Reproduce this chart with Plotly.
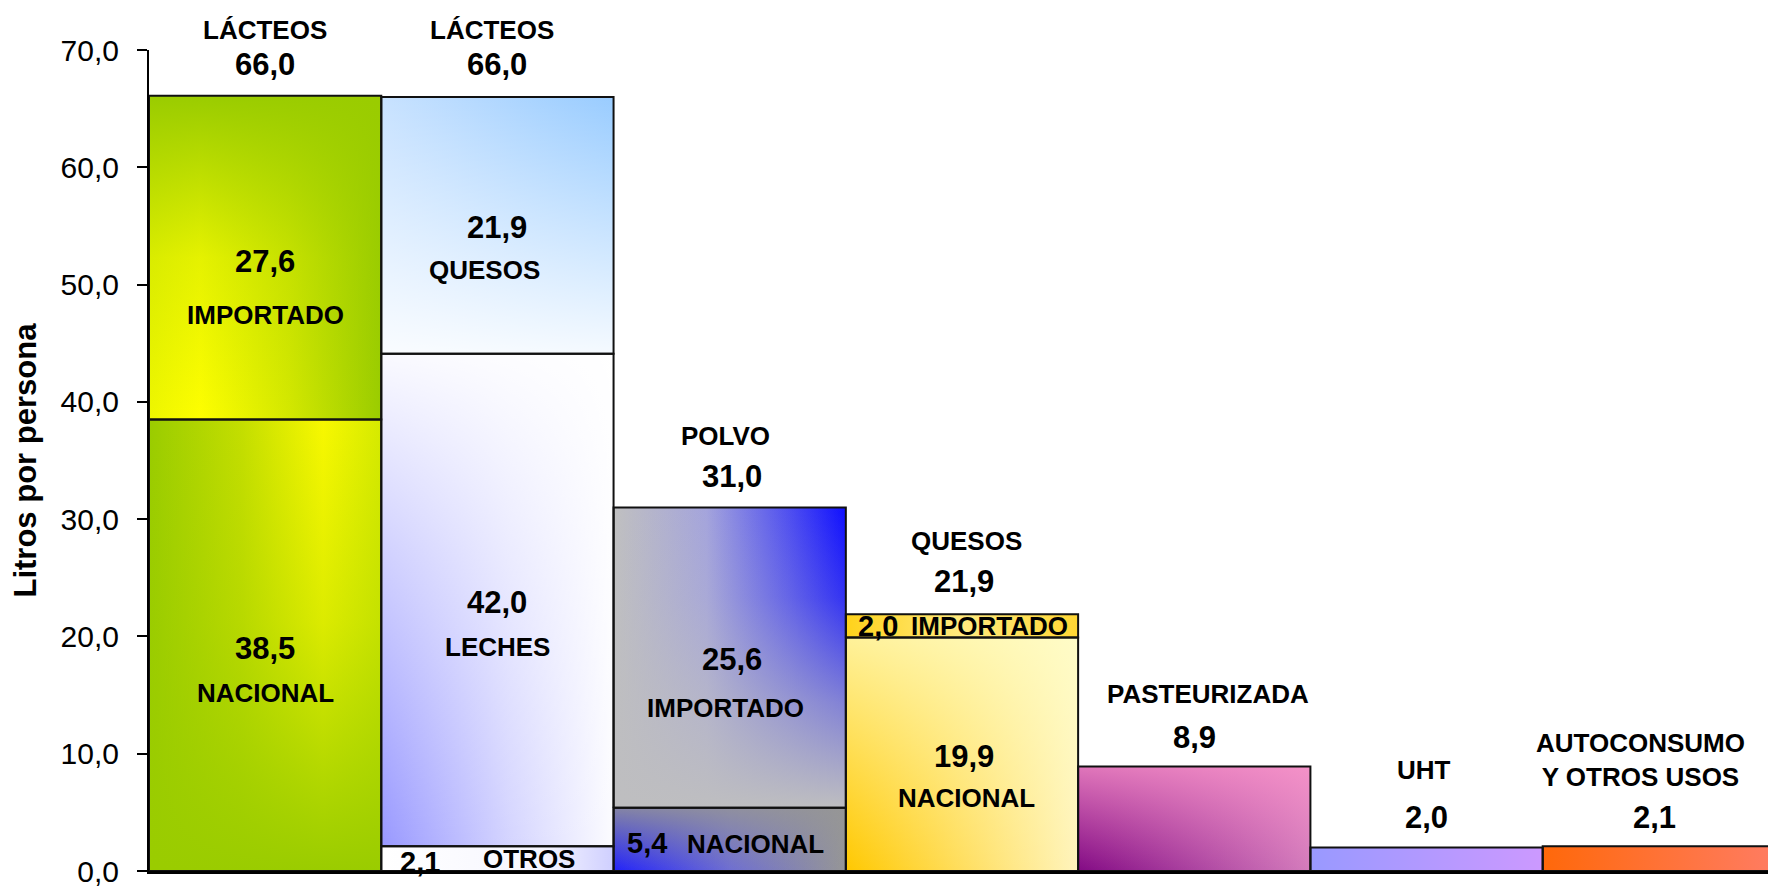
import plotly.graph_objects as go

# ---------------- data ----------------
categories = ["LÁCTEOS", "LÁCTEOS", "POLVO", "QUESOS", "PASTEURIZADA", "UHT",
              "AUTOCONSUMO<br>Y OTROS USOS"]
bar_totals = [66.0, 66.0, 31.0, 21.9, 8.9, 2.0, 2.1]

seg_bar = [0, 0, 1, 1, 1, 2, 2, 3, 3, 4, 5, 6]
seg_names = ["NACIONAL", "IMPORTADO", "OTROS", "LECHES", "QUESOS",
             "NACIONAL", "IMPORTADO", "NACIONAL", "IMPORTADO", "", "", ""]
seg_values = [38.5, 27.6, 2.1, 42.0, 21.9, 5.4, 25.6, 19.9, 2.0, 8.9, 2.0, 2.1]

y_tick_values = [0, 10, 20, 30, 40, 50, 60, 70]
y_title = "Litros por persona"

# ---------------- styles ----------------
FONT = "Liberation Sans, Arial, sans-serif"
X_RANGE = [-0.5, 6.47]
Y_RANGE = [0, 70]

def rgba(hexc, a):
    h = hexc.lstrip("#")
    return "rgba(%d,%d,%d,%.3f)" % (int(h[0:2], 16), int(h[2:4], 16), int(h[4:6], 16), a)

# horizontal base gradients (left -> right)
base_grad = [
    [[0, "#9ACC00"], [0.4, "#C4DE00"], [0.75, "#F8F800"], [1, "#D6EA00"]],
    [[0, "#EEF600"], [0.22, "#FEFE00"], [0.6, "#D4E800"], [1, "#9ACC00"]],
    [[0, "#FFFFFF"], [0.7, "#F6F6FF"], [1, "#CFCFFF"]],
    [[0, "#9898FF"], [0.55, "#D4D4FF"], [1, "#FCFCFF"]],
    [[0, "#C8E2FF"], [1, "#99CCFF"]],
    [[0, "#2222FA"], [0.5, "#6E6ED2"], [1, "#969696"]],
    [[0, "#C0C0C0"], [0.4, "#A4A4DC"], [0.75, "#5050F0"], [1, "#0F0FFF"]],
    [[0, "#FFC800"], [1, "#FFF4BC"]],
    [[0, "#FFD21A"], [0.5, "#FFEA80"], [1, "#FFD633"]],
    [[0, "#820A84"], [1, "#D47CBC"]],
    [[0, "#9999FF"], [1, "#CC99FF"]],
    [[0, "#FF680A"], [1, "#FF7C62"]],
]
# vertical overlays (bottom -> top), None = no overlay
over_grad = [
    [[0, rgba("#9ACC00", 1)], [0.55, rgba("#9ACC00", 0.3)], [1, rgba("#9ACC00", 0)]],
    [[0, rgba("#9ACC00", 0)], [0.5, rgba("#9ACC00", 0.25)], [1, rgba("#9ACC00", 1)]],
    None,
    [[0, rgba("#FFFFFF", 0)], [0.6, rgba("#FFFFFF", 0.55)], [1, rgba("#FFFFFF", 0.95)]],
    [[0, rgba("#FFFFFF", 0.9)], [1, rgba("#FFFFFF", 0)]],
    [[0, rgba("#969696", 0)], [1, rgba("#969696", 0.85)]],
    [[0, rgba("#BEBEC0", 1)], [0.35, rgba("#BEBEC0", 0.65)], [0.7, rgba("#BEBEC0", 0.2)], [1, rgba("#BEBEC0", 0)]],
    [[0, rgba("#FFFFCC", 0)], [1, rgba("#FFFFCC", 0.75)]],
    None,
    [[0, rgba("#FF99CC", 0)], [1, rgba("#FF99CC", 0.75)]],
    None,
    None,
]

# label placement (data units) -- style only
top_label_pos = [  # x, y of category name, y of total
    (0.0, 71.7, 68.8), (0.975, 71.7, 68.8), (1.98, 37.1, 33.6), (3.02, 28.1, 24.7),
    (4.06, 15.1, 11.4), (4.99, 8.6, 4.6), (5.92, 9.5, 4.6),
]
top_value_x = [0.0, 1.0, 2.01, 3.01, 4.0, 5.0, 5.98]
seg_label_pos = [  # value x, value y, name x, name y, value size
    (0.0, 19.0, 0.0, 15.2, 31),
    (0.0, 52.0, 0.0, 47.4, 31),
    (0.667, 0.75, 1.136, 1.0, 29),
    (1.0, 22.9, 1.0, 19.1, 31),
    (1.0, 54.9, 0.946, 51.2, 31),
    (1.644, 2.4, 2.113, 2.26, 29),
    (2.01, 18.0, 1.98, 13.9, 31),
    (3.01, 9.8, 3.02, 6.2, 31),
    (2.64, 20.9, 3.12, 20.9, 29),
]

def fmt(v):
    return ("%.1f" % v).replace(".", ",")

def to_paper_x(x):
    return (x - X_RANGE[0]) / (X_RANGE[1] - X_RANGE[0])

def to_paper_y(y):
    return (y - Y_RANGE[0]) / (Y_RANGE[1] - Y_RANGE[0])

fig = go.Figure()

# compute segment rectangles from data
bases = []
running = {}
for b, v in zip(seg_bar, seg_values):
    base = running.get(b, 0.0)
    bases.append(base)
    running[b] = base + v

half = 0.5
rects = []
for i, (b, v) in enumerate(zip(seg_bar, seg_values)):
    x0, x1 = b - half, b + half
    y0, y1 = bases[i], bases[i] + v
    rects.append(([x0, x1, x1, x0, x0], [y0, y0, y1, y1, y0]))

# fills
for i, (xs, ys) in enumerate(rects):
    fig.add_trace(go.Scatter(
        x=xs, y=ys, mode="lines", fill="toself", line=dict(width=0, color="rgba(0,0,0,0)"),
        fillgradient=dict(type="horizontal", colorscale=base_grad[i]),
        hoverinfo="skip", showlegend=False))
    if over_grad[i] is not None:
        fig.add_trace(go.Scatter(
            x=xs, y=ys, mode="lines", fill="toself", line=dict(width=0, color="rgba(0,0,0,0)"),
            fillgradient=dict(type="vertical", colorscale=over_grad[i]),
            hoverinfo="skip", showlegend=False))
# outlines
for i, (xs, ys) in enumerate(rects):
    fig.add_trace(go.Scatter(
        x=xs, y=ys, mode="lines", line=dict(width=2, color="#111111"),
        hoverinfo="skip", showlegend=False))

ann = []
def add_text(x, y, text, size):
    ann.append(dict(x=to_paper_x(x), y=to_paper_y(y), xref="paper", yref="paper",
                    text=text, showarrow=False,
                    font=dict(family=FONT, size=size, color="black", weight="bold"),
                    xanchor="center", yanchor="middle"))

for b, (cat, tot) in enumerate(zip(categories, bar_totals)):
    px, ny, vy = top_label_pos[b]
    add_text(px, ny, cat, 26)
    add_text(top_value_x[b], vy, fmt(tot), 31)

for i, name in enumerate(seg_names):
    if not name:
        continue
    vx, vy, nx, ny, vs = seg_label_pos[i]
    add_text(vx, vy, fmt(seg_values[i]), vs)
    add_text(nx, ny, name, 26)

# y-axis title
ann.append(dict(x=-124 / 1619, y=to_paper_y(35), xref="paper", yref="paper", text=y_title,
                textangle=-90, showarrow=False,
                font=dict(family=FONT, size=31, color="black", weight="bold"),
                xanchor="center", yanchor="middle"))

fig.update_layout(
    width=1768, height=889,
    margin=dict(l=149, r=0, t=50, b=18, pad=0),
    paper_bgcolor="white", plot_bgcolor="white",
    separators=",.",
    annotations=ann,
    showlegend=False,
    xaxis=dict(range=X_RANGE, showgrid=False, zeroline=False, showticklabels=False,
               ticks="", showline=True, linecolor="black", linewidth=3, fixedrange=True),
    yaxis=dict(range=Y_RANGE, tickvals=y_tick_values, tickformat=".1f", showgrid=False,
               zeroline=False, showline=True, linecolor="black", linewidth=2,
               ticks="outside", ticklen=10, tickwidth=2, tickcolor="black",
               ticklabelstandoff=12,
               tickfont=dict(family=FONT, size=30, color="black")),
)

fig.write_html("out.html", config={"displayModeBar": False},
               post_script="document.body.style.margin='0';document.body.style.overflow='hidden';")
